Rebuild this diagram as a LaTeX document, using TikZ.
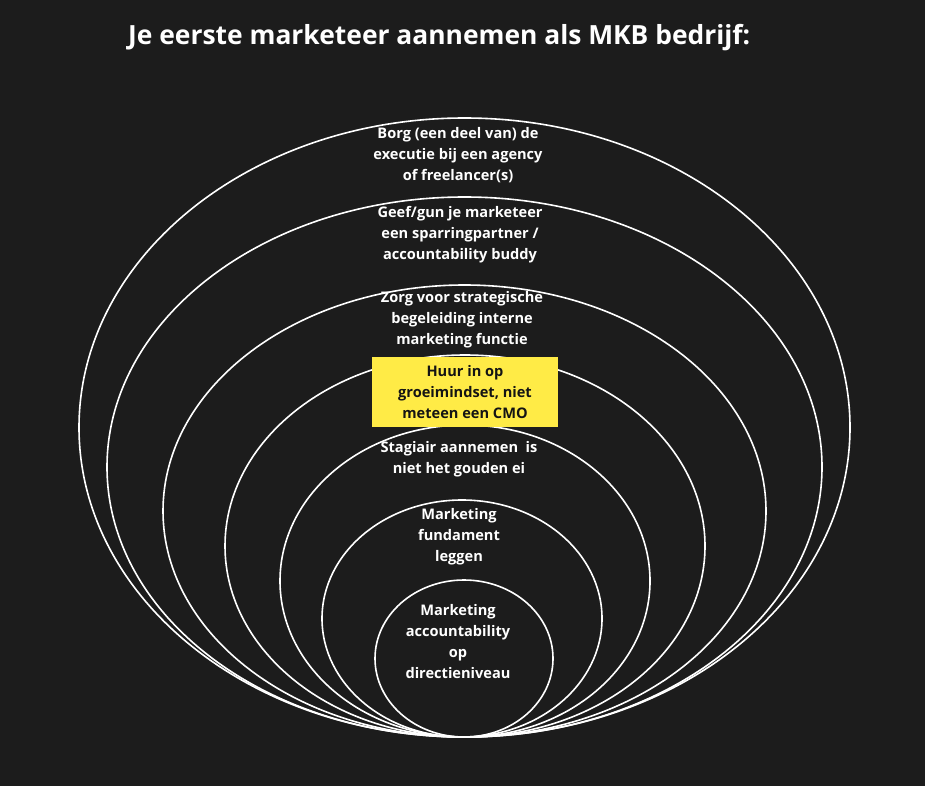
\documentclass[tikz,border=0pt]{standalone}
\usepackage{fontspec}
\setmainfont{Open Sans}
\definecolor{bg}{RGB}{28,28,28}
\definecolor{hl}{RGB}{255,235,70}
\definecolor{ink}{RGB}{20,20,20}
\begin{document}
\begin{tikzpicture}[x=1pt,y=-1pt,
  ring/.style={draw=white,line width=1.6pt},
  lbl/.style={text=white,font=\bfseries\fontsize{14.6}{21}\selectfont,align=center,inner sep=0pt}]
\fill[bg] (0,0) rectangle (925,786);
\useasboundingbox (0,0) rectangle (925,786);
\node[text=white,font=\bfseries\fontsize{26.4}{30}\selectfont,anchor=west,inner sep=0pt] (title) at (128,38) {Je eerste marketeer aannemen als MKB bedrijf:};
\draw[ring] (464.5,427.5) ellipse [x radius=385.5,y radius=309.5];
\draw[ring] (464.5,467) ellipse [x radius=357.5,y radius=270];
\draw[ring] (464.5,511) ellipse [x radius=301.5,y radius=226];
\draw[ring] (465,546) ellipse [x radius=240,y radius=191];
\draw[ring] (465,581) ellipse [x radius=185,y radius=156];
\draw[ring] (462,618.5) ellipse [x radius=140,y radius=118.5];
\draw[ring] (464,658.5) ellipse [x radius=89,y radius=78.5];
\node[lbl] (t1) at (458,155) {Borg (een deel van) de\\executie bij een agency\\of freelancer(s)};
\node[lbl] (t2) at (460,235) {Geef/gun je marketeer\\een sparringpartner /\\accountability buddy};
\node[lbl] (t3) at (462,320) {Zorg voor strategische\\begeleiding interne\\marketing functie};
\node[lbl,fill=hl,text=ink,minimum width=186pt,minimum height=70pt] (box) at (465,392) {Huur in op\\groeimindset, niet\\meteen een CMO};
\node[lbl] (t5) at (459,459) {Stagiair aannemen\ \ is\\niet het gouden ei};
\node[lbl] (t6) at (459,537) {Marketing\\fundament\\leggen};
\node[lbl] (t7) at (458,642) {Marketing\\accountability\\op\\directieniveau};
\end{tikzpicture}
\end{document}
